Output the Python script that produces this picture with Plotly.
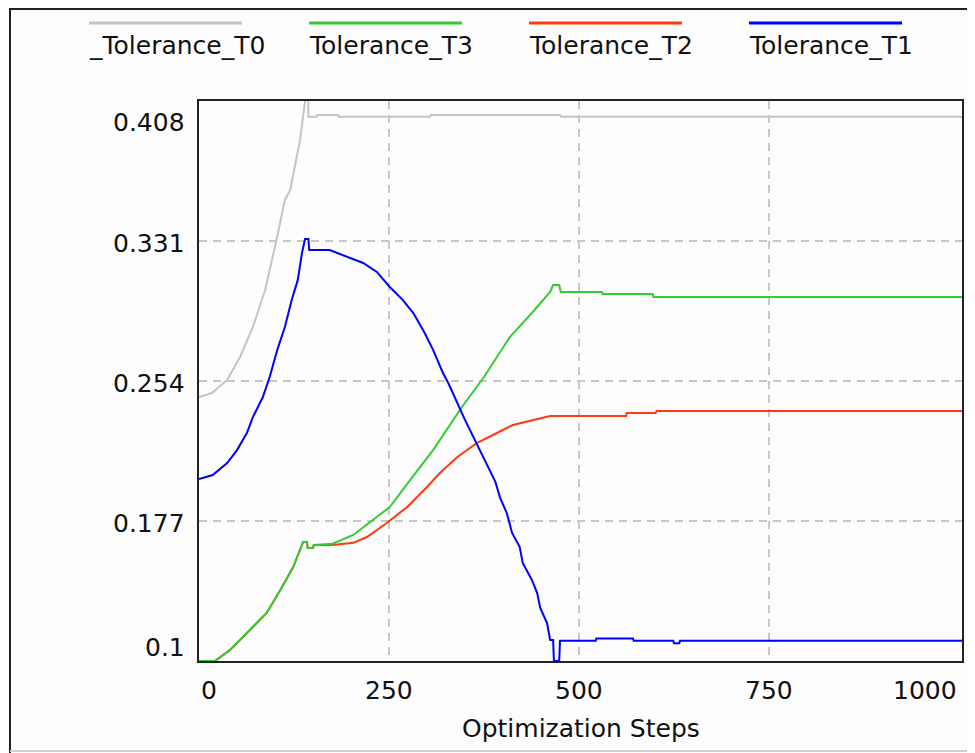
import plotly.graph_objects as go

# ---------------- data ----------------
series_names = ["_Tolerance_T0", "Tolerance_T3", "Tolerance_T2", "Tolerance_T1"]

t0_x = [0, 17, 37, 54, 71, 87, 102, 113, 120, 133, 138, 139.5, 141, 143, 144, 155, 156, 183, 184, 304, 305, 475, 476, 1004]
t0_y = [0.2452, 0.2474, 0.2546, 0.2672, 0.2837, 0.304, 0.3316, 0.3536, 0.359, 0.3866, 0.403, 0.4075, 0.43, 0.43,
        0.3994, 0.3994, 0.4003, 0.4003, 0.3994, 0.3994, 0.4003, 0.4003, 0.3994, 0.3994]

t3_x = [0, 21, 41, 67, 89, 107, 124, 137, 142, 143, 150, 151, 176, 203, 229, 251, 278, 308, 346, 375, 409, 438,
        462, 466, 474, 476, 530, 531, 597, 598, 1004]
t3_y = [0.1, 0.1, 0.1061, 0.117, 0.1264, 0.139, 0.1517, 0.1655, 0.1655, 0.1622, 0.1622, 0.1638, 0.1645, 0.1693,
        0.1776, 0.1847, 0.1996, 0.216, 0.2397, 0.2562, 0.2782, 0.2914, 0.303, 0.3068, 0.3068, 0.303, 0.303,
        0.3018, 0.3018, 0.3002, 0.3002]

t2_x = [0, 21, 41, 67, 89, 107, 124, 137, 142, 143, 150, 151, 176, 203, 221, 247, 274, 300, 317, 340, 366, 392,
        413, 440, 462, 562, 563, 601, 602, 1004]
t2_y = [0.1, 0.1, 0.1061, 0.117, 0.1264, 0.139, 0.1517, 0.1655, 0.1655, 0.1622, 0.1622, 0.1638, 0.1638, 0.165,
        0.1682, 0.1759, 0.1847, 0.1957, 0.2034, 0.2122, 0.22, 0.2254, 0.2298, 0.2326, 0.2348, 0.2348, 0.2364,
        0.2364, 0.2375, 0.2375]

t1_x = [0, 18, 37, 50, 63, 71, 84, 93, 103, 113, 122, 130, 135.5, 139.5, 144, 145, 172, 195, 216, 234, 251, 268,
        282, 297, 308, 321, 328, 350, 366, 383, 390, 396, 405, 412, 422, 426, 438, 445, 449, 458, 462, 466, 467,
        474, 475, 522, 523, 571, 572, 624, 625, 632, 633, 1004]
t1_y = [0.2001, 0.2023, 0.2089, 0.216, 0.2254, 0.2342, 0.2452, 0.2562, 0.2711, 0.2837, 0.2986, 0.3096, 0.3244,
        0.3321, 0.3321, 0.326, 0.326, 0.3222, 0.3189, 0.314, 0.3057, 0.2986, 0.2914, 0.2804, 0.2711, 0.2584,
        0.2529, 0.2326, 0.2188, 0.205, 0.1985, 0.19, 0.1814, 0.1704, 0.1627, 0.1539, 0.1446, 0.1374, 0.1292,
        0.1209, 0.1116, 0.1116, 0.1, 0.1, 0.1111, 0.1111, 0.1124, 0.1124, 0.1111, 0.1111, 0.1098, 0.1098,
        0.1111, 0.1111]

x_ticks = [0, 250, 500, 750, 1000]
x_tick_text = ["0", "250", "500", "750", "1000"]
y_ticks = [0.1, 0.177, 0.254, 0.331, 0.408]
y_tick_text = ["0.1", "0.177", "0.254", "0.331", "0.408"]
x_title = "Optimization Steps"

colors = {"_Tolerance_T0": "#C4C4C4", "Tolerance_T3": "#33CC33",
          "Tolerance_T2": "#FF3A10", "Tolerance_T1": "#0000FF"}

# ---------------- layout geometry (window pixels) ----------------
OFF = 8                      # page body margin of the html page
WIN_W, WIN_H = 975, 753
W, H = WIN_W - OFF, WIN_H - OFF
L, R, T, B = 199, 962, 101, 661   # plot area in window pixels
FONT = "DejaVu Sans"
FS = 25


def px(xp):
    return (xp - L) / (R - L)


def py(yp):
    return (B - yp) / (B - T)


fig = go.Figure()
data = {
    "_Tolerance_T0": (t0_x, t0_y),
    "Tolerance_T2": (t2_x, t2_y),
    "Tolerance_T3": (t3_x, t3_y),
    "Tolerance_T1": (t1_x, t1_y),
}
for name in ["_Tolerance_T0", "Tolerance_T2", "Tolerance_T3", "Tolerance_T1"]:
    xs, ys = data[name]
    fig.add_trace(go.Scatter(x=xs, y=ys, mode="lines", name=name,
                             line=dict(color=colors[name], width=2), showlegend=False,
                             hoverinfo="x+y+name"))

annotations = []
# x tick labels
for v, t in zip(x_ticks, x_tick_text):
    anchor = "center"
    if v == x_ticks[0]:
        anchor = "left"
    elif v == x_ticks[-1]:
        anchor = "right"
    annotations.append(dict(x=v, xref="x", y=0, yref="paper", text=t, showarrow=False,
                            xanchor=anchor, yanchor="middle", yshift=-29))
# y tick labels
for v, t in zip(y_ticks, y_tick_text):
    ys = -2
    if v == y_ticks[-1]:
        ys = -21
    elif v == y_ticks[0]:
        ys = 14
    annotations.append(dict(x=0, xref="paper", y=v, yref="y", text=t, showarrow=False,
                            xanchor="right", yanchor="middle", xshift=-12, yshift=ys))
# axis title
annotations.append(dict(x=0.5, xref="paper", y=0, yref="paper", text=x_title, showarrow=False,
                        xanchor="center", yanchor="middle", yshift=-67))

shapes = []
# custom legend (line above text)
legend_left = [89, 309, 529, 749]
for name, xl in zip(series_names, legend_left):
    shapes.append(dict(type="line", xref="paper", yref="paper", x0=px(xl), x1=px(xl + 153),
                       y0=py(23), y1=py(23), line=dict(color=colors[name], width=3)))
    annotations.append(dict(x=px(xl - 2), xref="paper", y=py(46), yref="paper", text=name,
                            showarrow=False, xanchor="left", yanchor="middle"))

# outer frame
shapes.append(dict(type="line", xref="paper", yref="paper", x0=px(9), x1=px(976), y0=py(9), y1=py(9),
                   line=dict(color="#222222", width=2)))
shapes.append(dict(type="line", xref="paper", yref="paper", x0=px(10), x1=px(10), y0=py(8), y1=py(754),
                   line=dict(color="#222222", width=2)))
shapes.append(dict(type="line", xref="paper", yref="paper", x0=px(10), x1=px(976), y0=py(751), y1=py(751),
                   line=dict(color="#D0D0D0", width=2)))

fig.update_layout(
    width=W, height=H,
    margin=dict(l=L - OFF, r=WIN_W - R, t=T - OFF, b=WIN_H - B, pad=0),
    paper_bgcolor="#FDFDFD", plot_bgcolor="#FDFDFD",
    font=dict(family=FONT, size=FS, color="#111111"),
    showlegend=False,
    annotations=annotations,
    shapes=shapes,
)
fig.update_xaxes(range=[0, 1004], tickvals=x_ticks[1:-1], showticklabels=False, ticks="",
                 showgrid=True, gridcolor="#C8C8C8", gridwidth=2, griddash="8px,6px",
                 zeroline=False, showline=True, linecolor="#222222", linewidth=2, mirror=True)
fig.update_yaxes(range=[0.1, 0.408], tickvals=y_ticks[1:-1], showticklabels=False, ticks="",
                 showgrid=True, gridcolor="#C8C8C8", gridwidth=2, griddash="8px,6px",
                 zeroline=False, showline=True, linecolor="#222222", linewidth=2, mirror=True)

fig.write_html("out.html")
